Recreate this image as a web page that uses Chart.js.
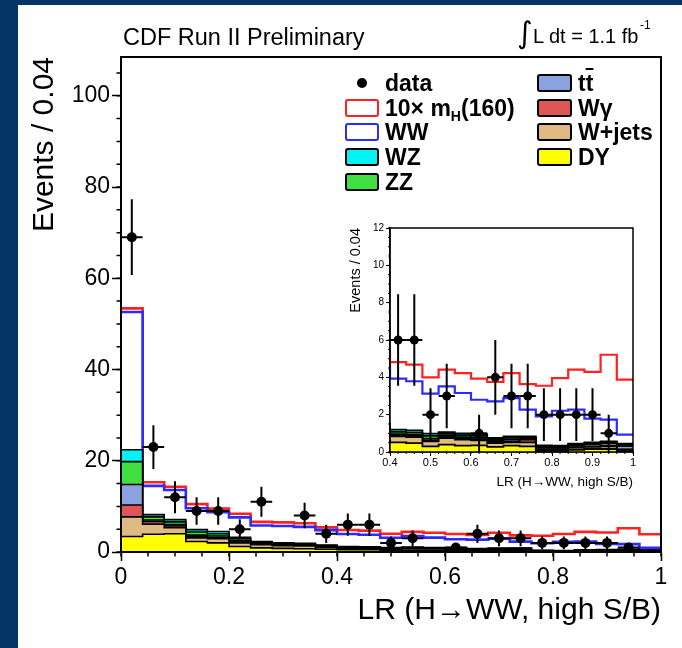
<!DOCTYPE html>
<html>
<head>
<meta charset="utf-8">
<script src="https://cdn.jsdelivr.net/npm/chart.js@4.4.1/dist/chart.umd.min.js"></script>
<style>
  html, body { margin: 0; padding: 0; }
  body { width: 682px; height: 648px; background: #053567; position: relative; overflow: hidden;
         font-family: "Liberation Sans", Arial, sans-serif; color: #000; }
  #panel { position: absolute; left: 18px; top: 5px; width: 664px; height: 643px; background: #fff; }
  #insetWrap { position: absolute; left: 345px; top: 218px; width: 295px; height: 280px; }
  .txt { position: absolute; white-space: nowrap; }
  .leg { position: absolute; white-space: nowrap; font-weight: bold; font-size: 23px; height: 24px; line-height: 24px; }
  .leg sub { font-size: 14px; vertical-align: -5px; line-height: 0; }
  .box { position: absolute; box-sizing: border-box; width: 34px; height: 18px; border: 2px solid #000; border-radius: 3px; }
</style>
</head>
<body>
<div id="panel"><canvas id="mainChart" width="664" height="643"></canvas></div>
<div id="insetWrap"><canvas id="insetChart" width="295" height="280"></canvas></div>

<div class="txt" style="left:123px; top:23px; font-size:23.5px; line-height:28px;">CDF Run II Preliminary</div>
<div class="txt" style="left:517px; top:15px; font-size:30px; line-height:36px; font-family:'DejaVu Sans';">∫</div>
<div class="txt" style="left:533px; top:24px; font-size:20px; line-height:24px;">L dt = 1.1 fb</div>
<div class="txt" style="left:640px; top:18px; font-size:12px; line-height:14px;">-1</div>

<!-- legend, left column -->
<div style="position:absolute; left:357px; top:78px; width:10px; height:10px; border-radius:50%; background:#000;"></div>
<div class="leg" style="left:385px; top:71px;">data</div>
<div class="box" style="left:345px; top:99px; border-color:#ff2020; background:#fff;"></div>
<div class="leg" style="left:385px; top:96px;">10× m<sub>H</sub>(160)</div>
<div class="box" style="left:345px; top:123px; border-color:#2b2bff; background:#fff;"></div>
<div class="leg" style="left:385px; top:120px;">WW</div>
<div class="box" style="left:345px; top:148px; background:#00f4f4;"></div>
<div class="leg" style="left:385px; top:145px;">WZ</div>
<div class="box" style="left:345px; top:173px; background:#3fe03f;"></div>
<div class="leg" style="left:385px; top:170px;">ZZ</div>
<!-- legend, right column -->
<div class="box" style="left:537px; top:74px; width:35px; background:#8aa3e0;"></div>
<div class="leg" style="left:578px; top:71px;">t<span style="text-decoration:overline;">t</span></div>
<div class="box" style="left:537px; top:99px; width:35px; background:#de5656;"></div>
<div class="leg" style="left:578px; top:96px;">Wγ</div>
<div class="box" style="left:537px; top:123px; width:35px; background:#dfbb83;"></div>
<div class="leg" style="left:578px; top:120px;">W+jets</div>
<div class="box" style="left:537px; top:148px; width:35px; background:#ffff00;"></div>
<div class="leg" style="left:578px; top:145px;">DY</div>

<script>
// LR binning: 25 bins of 0.04 from 0 to 1
const binLow = 0;
const binWidth = 0.04;
const nBins = 25;

// expected events per bin (bottom to top)
const dy     = [3.4, 3.9, 4.0, 2.3, 2.0, 1.2, 0.9, 0.8, 0.7, 0.6, 0.52, 0.48, 0.30, 0.39, 0.34, 0.36, 0.27, 0.34, 0.30, 0.04, 0.05, 0.12, 0.16, 0.16, 0.04];
const wjets  = [4.3, 2.2, 1.3, 0.8, 0.9, 0.8, 0.7, 0.6, 0.6, 0.4, 0.32, 0.32, 0.27, 0.36, 0.32, 0.27, 0.21, 0.18, 0.22, 0.08, 0.07, 0.11, 0.11, 0.14, 0.08];
const wgamma = [2.6, 0.6, 0.4, 0.3, 0.2, 0.2, 0.1, 0.1, 0.1, 0.1, 0.05, 0.05, 0.05, 0.04, 0.04, 0.04, 0.03, 0.04, 0.15, 0.03, 0.03, 0.03, 0.03, 0.03, 0.02];
const ttbar  = [4.5, 0.3, 0.3, 0.3, 0.4, 0.3, 0.2, 0.2, 0.2, 0.1, 0.06, 0.06, 0.10, 0.08, 0.10, 0.09, 0.08, 0.10, 0.07, 0.10, 0.09, 0.10, 0.12, 0.14, 0.18];
const zz     = [5.0, 0.7, 0.6, 0.7, 0.5, 0.4, 0.2, 0.2, 0.2, 0.2, 0.13, 0.13, 0.14, 0.10, 0.10, 0.10, 0.08, 0.10, 0.05, 0.06, 0.05, 0.05, 0.06, 0.06, 0.07];
const wz     = [2.6, 0.5, 0.5, 0.5, 0.5, 0.3, 0.2, 0.1, 0.1, 0.1, 0.12, 0.12, 0.12, 0.10, 0.10, 0.10, 0.08, 0.08, 0.05, 0.05, 0.05, 0.04, 0.04, 0.04, 0.06];
const ww     = [30.2, 6.3, 6.5, 4.7, 4.2, 4.4, 3.5, 3.7, 3.6, 3.3, 2.73, 2.63, 2.15, 2.45, 2.16, 1.84, 1.96, 2.05, 1.43, 1.55, 1.87, 1.82, 1.27, 1.16, 0.48];
// 10 x Higgs signal (mH = 160), stacked on top of the backgrounds
const higgs10 = [0.8, 0.8, 0.7, 0.9, 0.8, 0.8, 0.8, 0.8, 0.8, 0.6, 0.89, 0.89, 0.87, 0.89, 1.07, 1.13, 1.04, 1.34, 1.37, 1.64, 1.75, 2.14, 2.50, 3.48, 2.95];

// observed events and their errors
const dataCounts = [69, 23, 12, 9, 9, 5, 11, 0, 8, 4, 6, 6, 2, 3, 0, 1, 4, 3, 3, 2, 2, 2, 2, 1, 0];
const dataErr    = [8.3, 4.8, 3.5, 3, 3, 2.2, 3.3, 0, 2.8, 2, 2.45, 2.45, 1.41, 1.73, 0, 1, 2, 1.73, 1.73, 1.41, 1.41, 1.41, 1.41, 1, 0];

const components = [
    { label: 'DY',     values: dy,     fill: '#ffff00', line: '#000000' },
    { label: 'W+jets', values: wjets,  fill: '#dfbb83', line: '#000000' },
    { label: 'Wγ',     values: wgamma, fill: '#de5656', line: '#000000' },
    { label: 'tt',     values: ttbar,  fill: '#8aa3e0', line: '#000000' },
    { label: 'ZZ',     values: zz,     fill: '#3fe03f', line: '#000000' },
    { label: 'WZ',     values: wz,     fill: '#00f4f4', line: '#000000' },
    { label: 'WW',     values: ww,     fill: '#ffffff', line: '#2b2bff' }
];

Chart.defaults.font.family = '"Liberation Sans", Arial, sans-serif';
Chart.defaults.color = '#000';

function stepPoints(vals) {
    const pts = vals.map((v, i) => ({ x: binLow + i * binWidth, y: v }));
    pts.push({ x: binLow + nBins * binWidth, y: vals[vals.length - 1] });
    return pts;
}

function makeDatasets(cfg) {
    const datasets = [];

    const points = [];
    dataCounts.forEach((n, i) => {
        if (n > 0) points.push({ x: binLow + (i + 0.5) * binWidth, y: n, err: dataErr[i] });
    });
    datasets.push({
        label: 'data',
        isData: true,
        data: points,
        showLine: false,
        pointRadius: cfg.markerRadius,
        pointBackgroundColor: '#000',
        pointBorderWidth: 0,
        clip: 0
    });

    let running = new Array(nBins).fill(0);
    components.forEach(c => {
        running = running.map((r, i) => r + c.values[i]);
        const isWW = c.label === 'WW';
        datasets.push({
            label: c.label,
            data: stepPoints(running),
            stepped: true,
            fill: 'origin',
            backgroundColor: c.fill,
            borderColor: c.line,
            borderWidth: isWW ? cfg.colorLine : cfg.blackLine,
            pointRadius: 0,
            clip: 0
        });
    });

    const withSignal = running.map((r, i) => r + higgs10[i]);
    datasets.push({
        label: '10x mH(160)',
        data: stepPoints(withSignal),
        stepped: true,
        fill: false,
        borderColor: '#ff2020',
        borderWidth: cfg.colorLine,
        pointRadius: 0,
        clip: 0
    });

    return datasets;
}

const minorTicks = {
    id: 'minorTicks',
    afterDraw(chart, args, opts) {
        const { ctx, chartArea: a, scales: { x, y } } = chart;
        ctx.save();
        ctx.strokeStyle = '#000';
        ctx.lineWidth = opts.width;
        ctx.beginPath();
        const nx = Math.floor((x.max - x.min) / opts.xStep + 1e-6);
        for (let i = 0; i <= nx; i++) {
            const px = x.getPixelForValue(x.min + i * opts.xStep);
            ctx.moveTo(px, a.bottom);
            ctx.lineTo(px, a.bottom + opts.len);
        }
        const ny = Math.floor((y.max - y.min) / opts.yStep + 1e-6);
        for (let i = 0; i <= ny; i++) {
            const py = y.getPixelForValue(y.min + i * opts.yStep);
            ctx.moveTo(a.left, py);
            ctx.lineTo(a.left - opts.len, py);
        }
        ctx.stroke();
        ctx.restore();
    }
};

const errorBars = {
    id: 'errorBars',
    afterDatasetsDraw(chart, args, opts) {
        const { ctx, chartArea: a, scales: { x, y } } = chart;
        ctx.save();
        ctx.beginPath();
        ctx.rect(a.left, a.top, a.right - a.left, a.bottom - a.top);
        ctx.clip();
        ctx.strokeStyle = '#000';
        ctx.lineWidth = opts.width;
        chart.data.datasets.forEach(ds => {
            if (!ds.isData) return;
            ds.data.forEach(p => {
                const px = x.getPixelForValue(p.x);
                const py = y.getPixelForValue(p.y);
                ctx.beginPath();
                ctx.moveTo(x.getPixelForValue(p.x - binWidth / 2), py);
                ctx.lineTo(x.getPixelForValue(p.x + binWidth / 2), py);
                ctx.moveTo(px, y.getPixelForValue(Math.max(0, p.y - p.err)));
                ctx.lineTo(px, y.getPixelForValue(p.y + p.err));
                ctx.stroke();
            });
        });
        ctx.restore();
    }
};

const frameBox = {
    id: 'frameBox',
    afterDraw(chart, args, opts) {
        const { ctx, chartArea: a } = chart;
        ctx.save();
        ctx.strokeStyle = '#000';
        ctx.lineWidth = opts.width;
        ctx.strokeRect(a.left, a.top, a.right - a.left, a.bottom - a.top);
        ctx.restore();
    }
};

// ROOT style labels: "1" rather than "1.0"
const plainNumber = value => String(Math.round(value * 100) / 100);

function buildChart(canvasId, cfg) {
    return new Chart(document.getElementById(canvasId), {
        type: 'line',
        data: { datasets: makeDatasets(cfg) },
        options: {
            responsive: false,
            animation: false,
            events: [],
            layout: { padding: cfg.padding },
            plugins: {
                legend: { display: false },
                tooltip: { enabled: false },
                minorTicks: { xStep: cfg.xMinor, yStep: cfg.yMinor, len: cfg.minorLen, width: cfg.tickWidth },
                errorBars: { width: cfg.errWidth },
                frameBox: { width: cfg.frameWidth }
            },
            scales: {
                x: {
                    type: 'linear',
                    min: cfg.xMin,
                    max: cfg.xMax,
                    afterFit: s => { s.height = cfg.xHeight; },
                    ticks: { stepSize: cfg.xStep, autoSkip: false, maxRotation: 0, padding: cfg.xTickPad,
                             font: { size: cfg.xTickFont }, callback: plainNumber },
                    grid: { drawOnChartArea: false, tickLength: cfg.tickLen, tickColor: '#000', tickWidth: cfg.tickWidth },
                    border: { display: true, color: '#000', width: cfg.frameWidth },
                    title: { display: true, text: 'LR (H→WW, high S/B)', align: 'end',
                             font: { size: cfg.xTitleFont }, padding: { top: 0, bottom: cfg.xTitlePad } }
                },
                y: {
                    type: 'linear',
                    min: 0,
                    max: cfg.yMax,
                    afterFit: s => { s.width = cfg.yWidth; },
                    ticks: { stepSize: cfg.yStep, includeBounds: false, autoSkip: false, padding: cfg.yTickPad,
                             font: { size: cfg.yTickFont }, callback: plainNumber },
                    grid: { drawOnChartArea: false, tickLength: cfg.tickLen, tickColor: '#000', tickWidth: cfg.tickWidth },
                    border: { display: true, color: '#000', width: cfg.frameWidth },
                    title: { display: true, text: 'Events / 0.04', align: 'end',
                             font: { size: cfg.yTitleFont }, padding: { top: cfg.yTitlePad, bottom: 0 } }
                }
            }
        },
        plugins: [minorTicks, errorBars, frameBox]
    });
}

// main plot
buildChart('mainChart', {
    padding: { top: 52, right: 21, left: 0, bottom: 0 },
    xMin: 0, xMax: 1, xStep: 0.2, xMinor: 0.05,
    yMax: 108.5, yStep: 20, yMinor: 5,
    xHeight: 96, yWidth: 103,
    tickLen: 9, minorLen: 4.5, tickWidth: 1.5, frameWidth: 2,
    xTickPad: 3, yTickPad: 2, xTickFont: 23, yTickFont: 23,
    xTitleFont: 30, xTitlePad: 19, yTitleFont: 30, yTitlePad: 9,
    markerRadius: 5, errWidth: 2, blackLine: 1.6, colorLine: 2.6
});

// inset, zoomed on LR > 0.4
buildChart('insetChart', {
    padding: { top: 10, right: 7, left: 0, bottom: 0 },
    xMin: 0.4, xMax: 1, xStep: 0.1, xMinor: 0.02,
    yMax: 12, yStep: 2, yMinor: 0.5,
    xHeight: 46, yWidth: 45,
    tickLen: 4, minorLen: 2, tickWidth: 1, frameWidth: 1.5,
    xTickPad: 0, yTickPad: 2, xTickFont: 11, yTickFont: 10,
    xTitleFont: 13.5, xTitlePad: 8, yTitleFont: 14.5, yTitlePad: 2,
    markerRadius: 4.5, errWidth: 2, blackLine: 1.8, colorLine: 2.2
});
</script>
</body>
</html>
